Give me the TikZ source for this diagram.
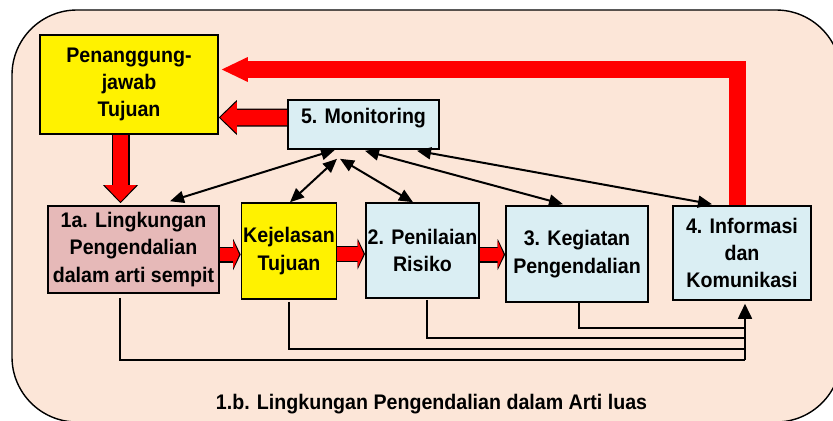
\documentclass[tikz,border=0pt]{standalone}
\usepackage{fontspec}
\setmainfont{Liberation Sans}[FakeStretch=0.93]
\usepackage{tikz}
\usetikzlibrary{shapes,arrows.meta,positioning,calc}
\definecolor{peach}{HTML}{FCE6D8}
\definecolor{lightblue}{HTML}{DAEEF3}
\definecolor{rosebox}{HTML}{E6B9B8}

\tikzset{
    box/.style={draw, line width=0.9pt, align=center, inner sep=1pt, font=\fontsize{12pt}{15.6pt}\selectfont\bfseries},
    bigblock/.style={preaction={draw=black, line width=0.36cm, shorten >=0pt, -{Triangle[length=0.36cm,width=0.70cm,line width=0pt]}}, draw=red, line width=0.31cm, shorten >=0.03cm, -{Triangle[length=0.33cm,width=0.63cm,line width=0pt]}},
    smallblock/.style={preaction={draw=black, line width=0.32cm, shorten >=0pt, -{Triangle[length=0.15cm,width=0.62cm,line width=0pt]}}, draw=red, line width=0.27cm, shorten >=0.03cm, -{Triangle[length=0.12cm,width=0.55cm,line width=0pt]}},
    bigarrow/.style={draw=red, line width=0.34cm, -{Triangle[length=0.52cm,width=0.5cm,line width=0pt]}},
    link/.style={>={Triangle[length=0.28cm,width=0.24cm]}, <->, line width=0.04cm},
    back/.style={line width=0.035cm},
}

\begin{document}
\begin{tikzpicture}
    \useasboundingbox (0,0) rectangle (16.66,-8.4);
    \draw[fill=peach, line width=0.8pt, rounded corners=1.3cm] (0.24,-0.2) rectangle (16.82,-8.44);

    \node[box, fill=yellow, minimum width=3.56cm, minimum height=1.98cm] (pj) at (2.58,-1.69) {Penanggung-\\jawab\\Tujuan};
    \node[box, fill=lightblue, minimum width=3.02cm, inner sep=0pt, text height=0.46cm, text depth=0.52cm] (mon) at (7.27,-2.49) {5. Monitoring};

    \node[box, fill=rosebox, minimum width=3.42cm, minimum height=1.74cm] (ling) at (2.67,-4.99) {1a. Lingkungan\\Pengendalian\\dalam arti sempit};
    \node[box, fill=yellow, minimum width=1.88cm, minimum height=1.92cm] (kej) at (5.78,-5.02) {Kejelasan\\Tujuan};
    \node[box, fill=lightblue, minimum width=2.26cm, minimum height=1.90cm] (pen) at (8.45,-5.01) {2. Penilaian\\Risiko};
    \node[box, fill=lightblue, minimum width=2.84cm, minimum height=1.92cm] (keg) at (11.54,-5.08) {3. Kegiatan\\Pengendalian};
    \node[box, fill=lightblue, minimum width=2.76cm, minimum height=1.88cm] (info) at (14.84,-5.06) {4. Informasi\\dan\\Komunikasi};

    \node[font=\fontsize{12pt}{15.6pt}\selectfont\bfseries] (luas) at (8.63,-8.08) {1.b. Lingkungan Pengendalian dalam Arti luas};

    \draw[bigarrow] ([xshift=-0.09cm]info.north) |- ([xshift=0.06cm,yshift=0.3cm]pj.east);
    \draw[bigblock] ([yshift=0.14cm]mon.west) -- ($(pj.east |- mon.west)+(0,0.14)$);
    \draw[bigblock] ([xshift=-0.17cm]pj.south) -- ($(pj.south |- ling.north)+(-0.17,0.04)$);
    \draw[smallblock] ([yshift=-0.1cm]ling.east) -- ($(kej.west |- ling.east)+(0,-0.1)$);
    \draw[smallblock] ([yshift=-0.06cm]kej.east) -- ($(pen.west |- kej.east)+(0,-0.06)$);
    \draw[smallblock] ([yshift=-0.08cm]pen.east) -- ($(keg.west |- pen.east)+(0,-0.08)$);

    \draw[link] ([xshift=-0.57cm]mon.south) -- ([xshift=0.73cm,yshift=0.08cm]ling.north);
    \draw[link] ([xshift=-0.53cm,yshift=-0.18cm]mon.south) -- ([xshift=0.02cm]kej.north);
    \draw[link] ([xshift=-0.47cm,yshift=-0.18cm]mon.south) -- ([xshift=-0.19cm]pen.north);
    \draw[link] ([xshift=0.03cm,yshift=-0.02cm]mon.south) -- ([xshift=-0.28cm,yshift=0.02cm]keg.north);
    \draw[link] ([xshift=1.07cm,yshift=-0.02cm]mon.south) -- ([xshift=-0.6cm,yshift=0.02cm]info.north);

    \draw[back] ([xshift=-0.27cm,yshift=-0.08cm]ling.south) |- ([xshift=0.06cm,yshift=-1.18cm]info.south);
    \draw[back] ([yshift=-0.04cm]kej.south) |- ([xshift=0.06cm,yshift=-0.96cm]info.south);
    \draw[back] ([xshift=0.09cm,yshift=-0.02cm]pen.south) |- ([xshift=0.06cm,yshift=-0.74cm]info.south);
    \draw[back] ([xshift=0.04cm]keg.south) |- ([xshift=0.06cm,yshift=-0.54cm]info.south);
    \draw[back, -{Triangle[length=0.3cm,width=0.28cm]}] ([xshift=0.06cm,yshift=-1.18cm]info.south) -- ([xshift=0.06cm,yshift=-0.06cm]info.south);
\end{tikzpicture}
\end{document}
